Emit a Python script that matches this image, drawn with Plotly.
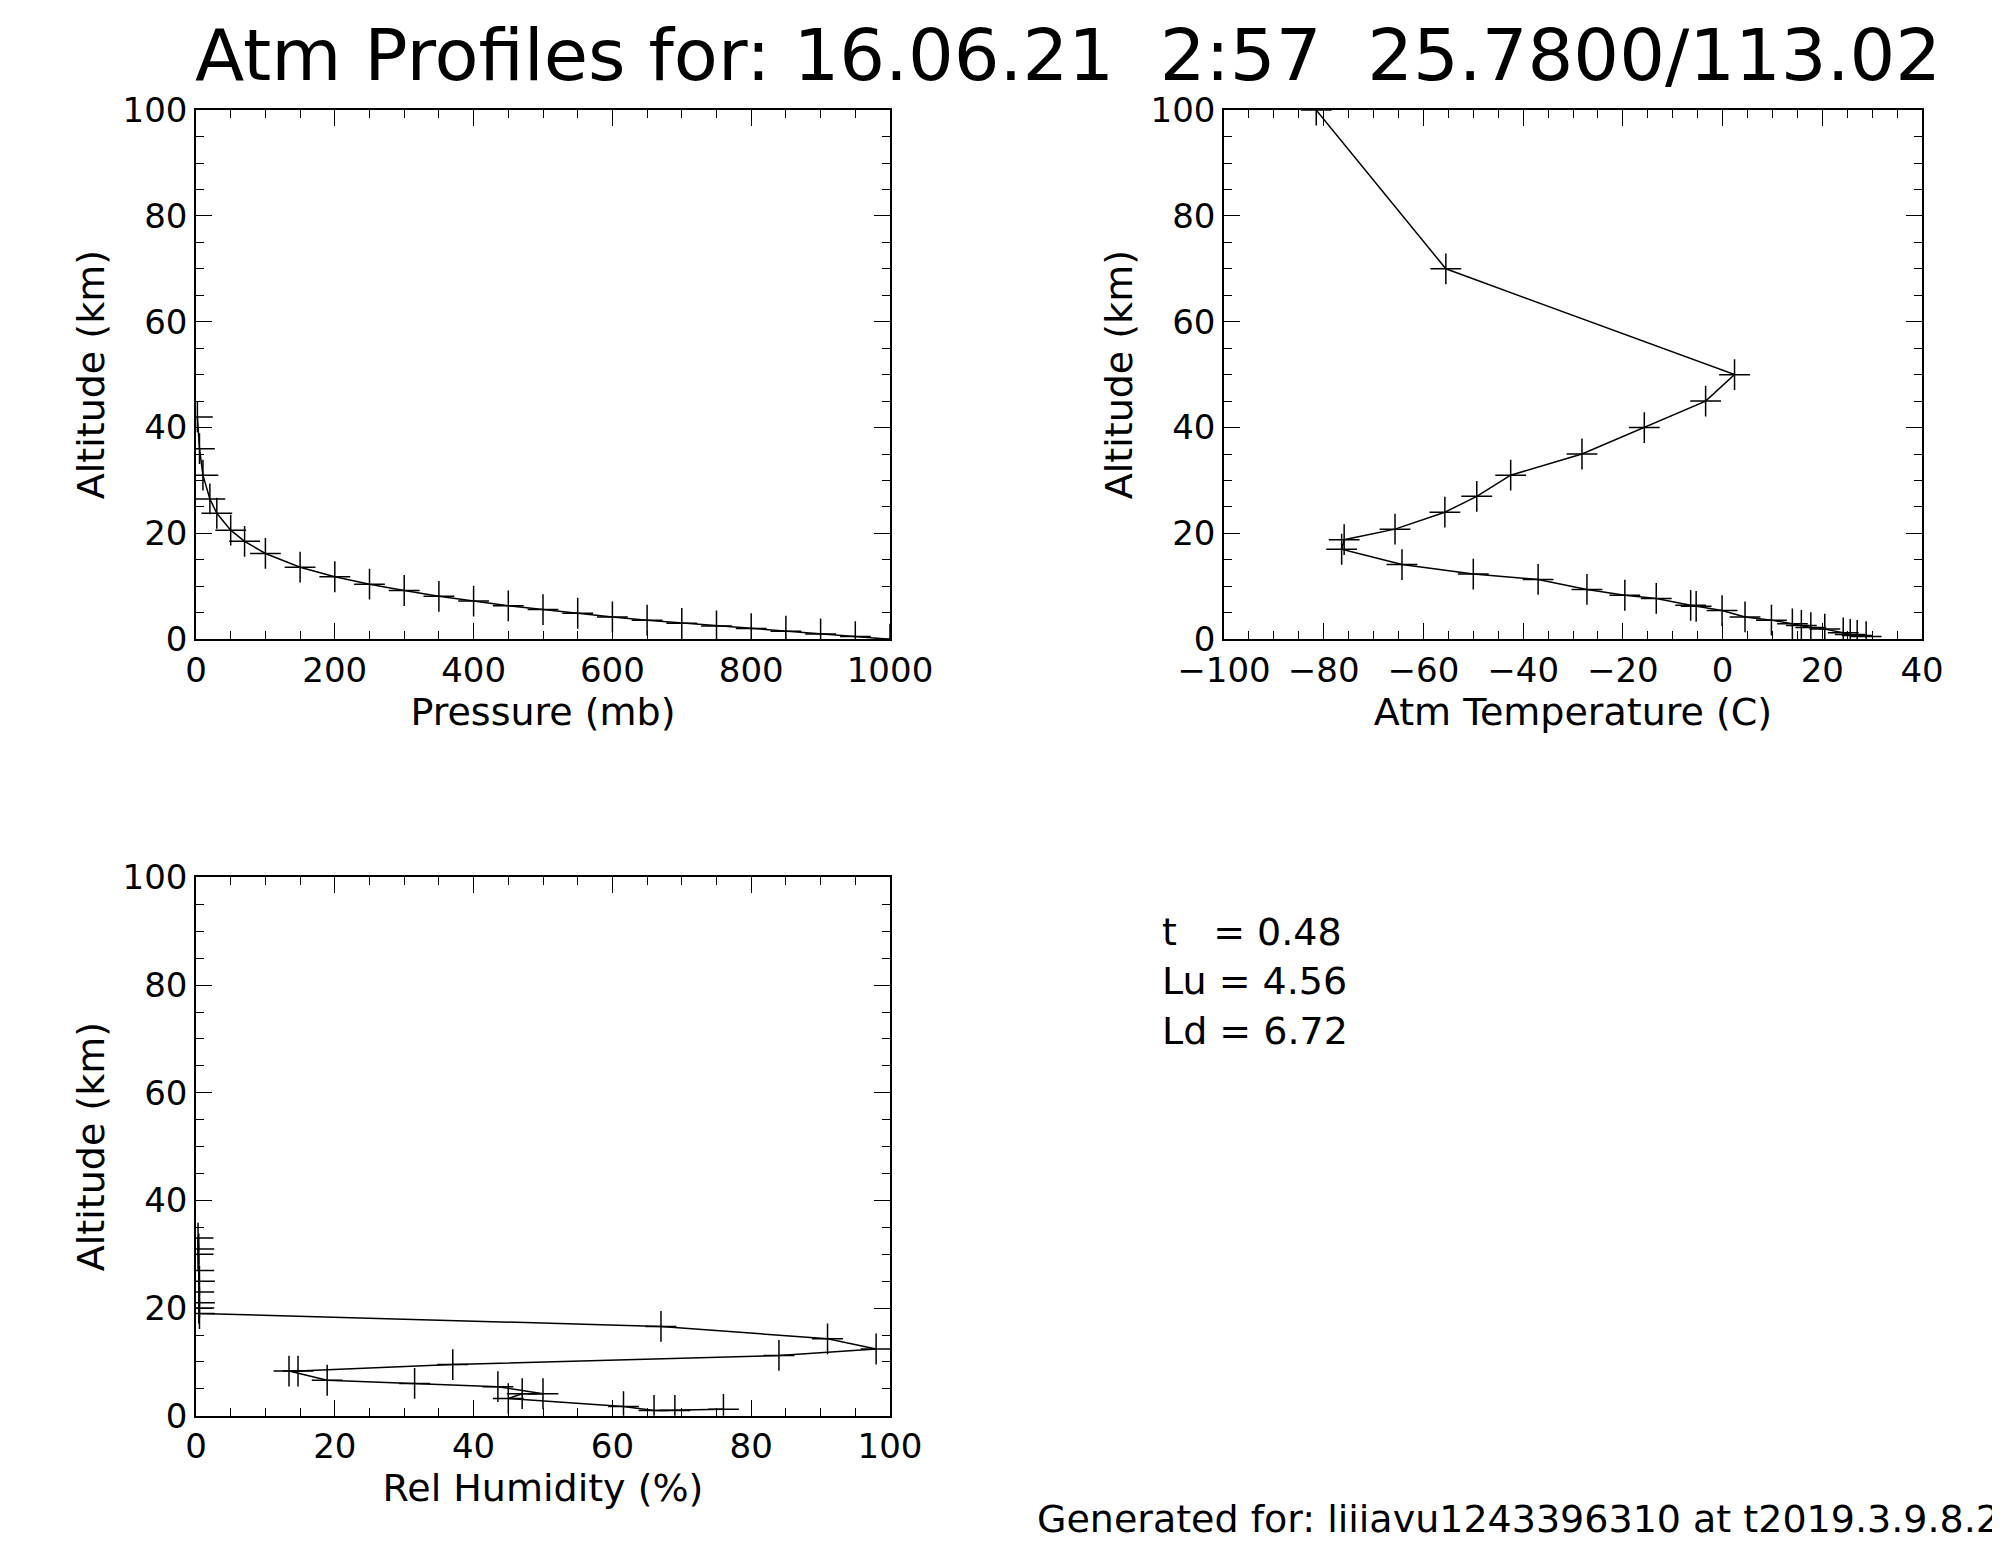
import plotly.graph_objects as go

# Pressure profile
p_alt = [0, 0.5, 1, 1.5, 2, 2.5, 3, 3.6, 4.2, 4.9, 5.6, 6.3, 7.2, 8.1, 9.2, 10.4, 11.8, 13.6, 16.2, 18.5, 20.6, 23.8, 26.5, 31, 36, 42]
p_mb = [1000, 950, 900, 850, 800, 750, 700, 650, 600, 550, 500, 450, 400, 350, 300, 250, 200, 150, 100, 70, 50, 30, 20, 10, 5, 2]

# Temperature profile
t_alt = [0.5, 0.7, 0.9, 1.2, 1.9, 2.2, 2.6, 2.9, 3.6, 4.2, 5.4, 6.2, 6.4, 7.7, 8.3, 9.4, 11.3, 12.3, 14.1, 17, 18.8, 20.8, 24, 27, 31, 35, 40, 45, 50, 70, 100]
t_c = [28.8, 27, 25.6, 24.2, 20.5, 17.7, 15.8, 14, 9.8, 4.5, -0.1, -5.3, -6.4, -13.3, -19.6, -27.2, -37, -50, -64.3, -76.4, -75.9, -65.7, -55.7, -49.3, -42.5, -28.2, -15.7, -3.4, 2.4, -55.5, -81.5]

# Relative humidity profile
h_alt = [1.2, 1.0, 1.0, 1.7, 3.2, 4.1, 4.1, 5.4, 6.0, 6.6, 8.3, 8.3, 9.5, 11.2, 12.4, 14.3, 16.6, 19, 20, 21, 23, 25, 27, 30, 31, 33]
h_rh = [76, 69, 66, 61.6, 45, 47, 50, 43.5, 31.5, 18.9, 13.4, 14.7, 37, 84, 98, 91, 67, 0.5, 0.4, 0.5, 0.4, 0.5, 0.4, 0.3, 0.4, 0.3]

title = "Atm Profiles for: 16.06.21  2:57  25.7800/113.02"
info = "t   = 0.48<br>Lu = 4.56<br>Ld = 6.72"
footer = "Generated for: liiiavu1243396310 at t2019.3.9.8.2"

F = dict(family="DejaVu Sans", size=34, color="black")
FT = dict(family="DejaVu Sans", size=38, color="black")
fig = go.Figure()
line = dict(color="black", width=1.5)
mk = dict(symbol="cross-thin-open", size=22, line=dict(color="black", width=1.5))
fig.add_trace(go.Scatter(x=p_mb, y=p_alt, mode="lines+markers", line=line, marker=mk, xaxis="x", yaxis="y"))
fig.add_trace(go.Scatter(x=t_c, y=t_alt, mode="lines+markers", line=line, marker=mk, xaxis="x2", yaxis="y2"))
fig.add_trace(go.Scatter(x=h_rh, y=h_alt, mode="lines+markers", line=line, marker=mk, xaxis="x3", yaxis="y3"))

def ax(dom, anchor, rng, dt, title, minor):
    return dict(domain=dom, anchor=anchor, range=rng, dtick=dt, tick0=rng[0], automargin=False,
                title=dict(text=title, font=FT, standoff=6),
                showgrid=False, zeroline=False, showline=True, mirror="ticks", linecolor="black", linewidth=1.5,
                ticks="inside", ticklen=16, tickcolor="black", tickfont=F,
                minor=dict(ticks="inside", ticklen=8, dtick=minor, tickcolor="black", showgrid=False))

yd1 = [0.592, 0.934]; yd3 = [0.09, 0.438]
xd1 = [0.094, 0.441]; xd2 = [0.608, 0.957]
fig.update_layout(
    width=2000, height=1547, margin=dict(l=0, r=0, t=0, b=0),
    paper_bgcolor="white", plot_bgcolor="white", showlegend=False, font=F,
    xaxis=ax(xd1, "y", [0, 1000], 200, "Pressure (mb)", 50),
    yaxis=ax(yd1, "x", [0, 100], 20, "Altitude (km)", 5),
    xaxis2=ax(xd2, "y2", [-100, 40], 20, "Atm Temperature (C)", 5),
    yaxis2=ax(yd1, "x2", [0, 100], 20, "Altitude (km)", 5),
    xaxis3=ax(xd1, "y3", [0, 100], 20, "Rel Humidity (%)", 5),
    yaxis3=ax(yd3, "x3", [0, 100], 20, "Altitude (km)", 5),
    annotations=[
        dict(text=title, x=0.53, y=0.998, xref="paper", yref="paper", xanchor="center", yanchor="top", showarrow=False,
             font=dict(family="DejaVu Sans", size=72, color="black")),
        dict(text=info, x=0.576, y=0.418, xref="paper", yref="paper", xanchor="left", yanchor="top", showarrow=False, align="left",
             font=FT),
        dict(text=footer, x=0.997, y=0.008, xref="paper", yref="paper", xanchor="right", yanchor="bottom", showarrow=False,
             font=FT),
    ],
)
fig.write_html("out.html")
